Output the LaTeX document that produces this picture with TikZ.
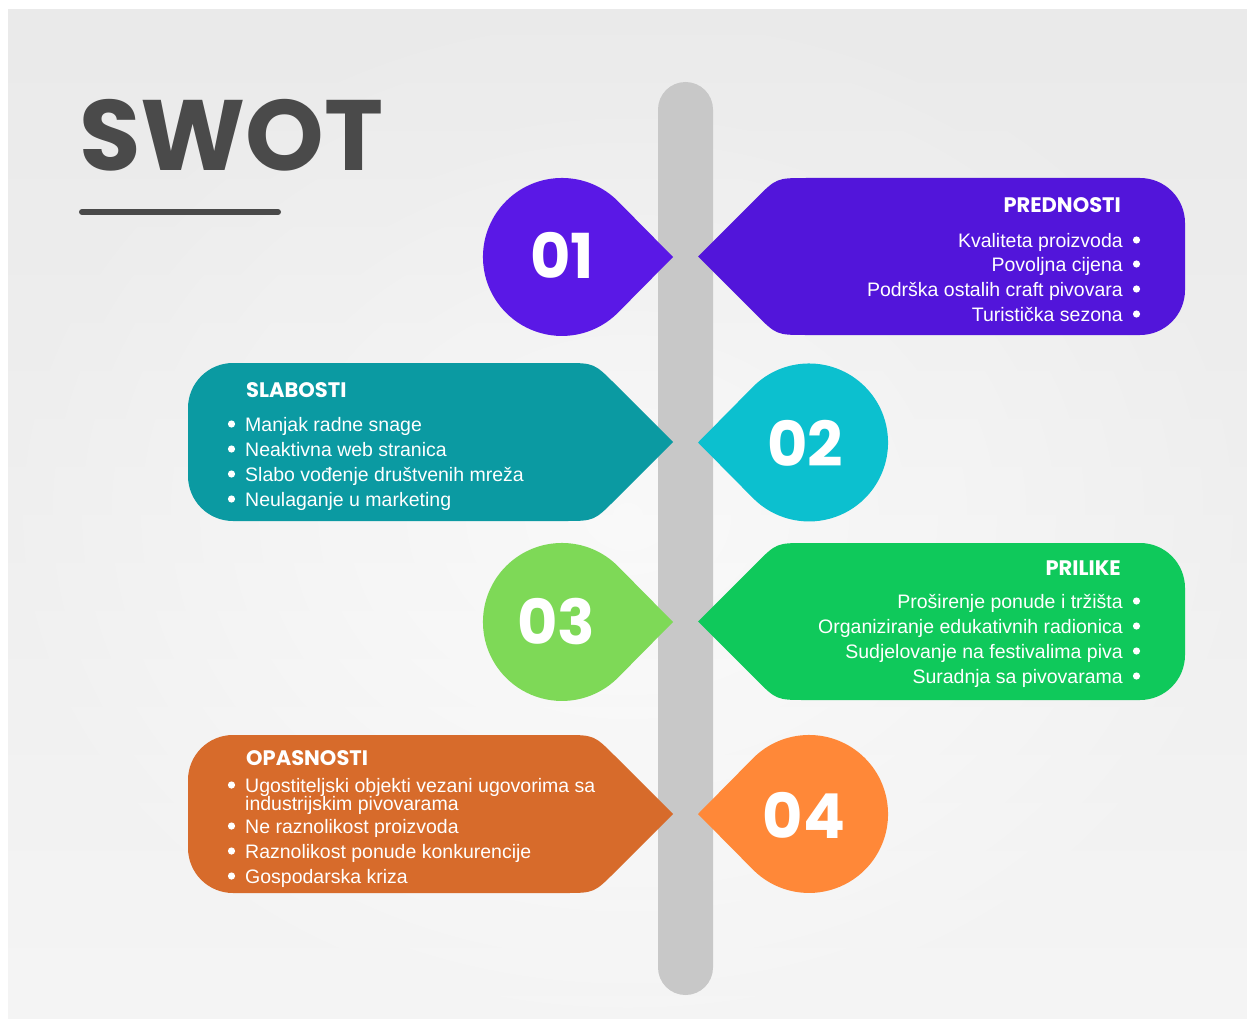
\documentclass[tikz,border=0pt]{standalone}
\usepackage{fontspec}
\setmainfont{Liberation Sans}
\newfontfamily\pop{Poppins}
\definecolor{bgout}{HTML}{EAEAEA}
\definecolor{pole}{HTML}{C8C8C8}
\definecolor{ink}{HTML}{4A4A4A}
\definecolor{purA}{HTML}{5A18E6}
\definecolor{purB}{HTML}{5215DA}
\definecolor{cyanA}{HTML}{0CC0CF}
\definecolor{tealB}{HTML}{0B9AA2}
\definecolor{limeA}{HTML}{7ED957}
\definecolor{grnB}{HTML}{0FC95B}
\definecolor{orA}{HTML}{FF8838}
\definecolor{orB}{HTML}{D76B2B}
\tikzset{
  item/.style={text=white, inner sep=0pt, font=\fontsize{19.5}{23}\selectfont},
  head/.style={text=white, inner sep=0pt, font=\pop\bfseries\fontsize{21}{25}\selectfont},
  num/.style={text=white, inner sep=0pt, font=\pop\bfseries\fontsize{62}{70}\selectfont},
  dotb/.style={fill=white},
}
\begin{document}
\begin{tikzpicture}[x=1pt,y=-1pt]
\useasboundingbox (0,0) rectangle (1247,1019);
\fill[white] (0,0) rectangle (1247,1019);
\shade[inner color=white, outer color=bgout] (8,10) rectangle (1247,1019);
\shade[top color=bgout, bottom color=white, opacity=0.5] (8,10) rectangle (1247,1019);

% title
\node[anchor=base west, inner sep=0pt, text=ink, font=\pop\bfseries\fontsize{100}{110}\selectfont] (title) at (79,171) {SWOT};
\draw[ink, line width=6pt, line cap=round] (82,212) -- (278,212);

% pole
\fill[pole, rounded corners=27.5pt] (658,82) rectangle (713,995);

% ---------- 01 ----------
\fill[purA] (673,257) -- (618.2,201.5) arc[start angle=-44.6, end angle=-315.4, radius=79] -- cycle;
\fill[purB] (698,256.5) -- (755.5,199) .. controls (776.5,178) .. (806.5,178) -- (1140,178)
  arc[start angle=-90, end angle=0, radius=45] -- (1185,290)
  arc[start angle=0, end angle=90, radius=45] -- (806.5,335) .. controls (776.5,335) .. (755.5,314) -- cycle;
\node[num] (n1) at (562,255) {01};
\node[head, anchor=base east] (h1) at (1121,213) {PREDNOSTI};
\node[item, anchor=base east] (a1) at (1123,247) {Kvaliteta proizvoda};
\node[item, anchor=base east] (a2) at (1123,271) {Povoljna cijena};
\node[item, anchor=base east] (a3) at (1123,296) {Podrška ostalih craft pivovara};
\node[item, anchor=base east] (a4) at (1123,321) {Turistička sezona};
\foreach \y in {240,264,289,314} \fill[dotb] (1136.5,\y) circle (3.6);

% ---------- 02 ----------
\fill[cyanA] (698,442.5) -- (752.8,387) arc[start angle=-135.4, end angle=135.4, radius=79] -- cycle;
\fill[tealB] (673,442) -- (615,384) .. controls (594,363) .. (564,363) -- (233,363)
  arc[start angle=-90, end angle=-180, radius=45] -- (188,476)
  arc[start angle=180, end angle=90, radius=45] -- (564,521) .. controls (594,521) .. (615,500) -- cycle;
\node[num] (n2) at (805,443) {02};
\node[head, anchor=base west] (h2) at (246,397) {SLABOSTI};
\node[item, anchor=base west] (b1) at (245,431) {Manjak radne snage};
\node[item, anchor=base west] (b2) at (245,456) {Neaktivna web stranica};
\node[item, anchor=base west] (b3) at (245,481) {Slabo vođenje društvenih mreža};
\node[item, anchor=base west] (b4) at (245,506) {Neulaganje u marketing};
\foreach \y in {424,449,474,499} \fill[dotb] (231.5,\y) circle (3.6);

% ---------- 03 ----------
\fill[limeA] (673,622) -- (618.2,566.5) arc[start angle=-44.6, end angle=-315.4, radius=79] -- cycle;
\fill[grnB] (698,621.5) -- (755.5,564) .. controls (776.5,543) .. (806.5,543) -- (1140,543)
  arc[start angle=-90, end angle=0, radius=45] -- (1185,655)
  arc[start angle=0, end angle=90, radius=45] -- (806.5,700) .. controls (776.5,700) .. (755.5,679) -- cycle;
\node[num] (n3) at (556,622) {03};
\node[head, anchor=base east] (h3) at (1121,575) {PRILIKE};
\node[item, anchor=base east] (c1) at (1123,608) {Proširenje ponude i tržišta};
\node[item, anchor=base east] (c2) at (1123,633) {Organiziranje edukativnih radionica};
\node[item, anchor=base east] (c3) at (1123,658) {Sudjelovanje na festivalima piva};
\node[item, anchor=base east] (c4) at (1123,683) {Suradnja sa pivovarama};
\foreach \y in {601,626,651,676} \fill[dotb] (1136.5,\y) circle (3.6);

% ---------- 04 ----------
\fill[orA] (698,814) -- (752.8,758.5) arc[start angle=-135.4, end angle=135.4, radius=79] -- cycle;
\fill[orB] (673,814) -- (615,756) .. controls (594,735) .. (564,735) -- (233,735)
  arc[start angle=-90, end angle=-180, radius=45] -- (188,848)
  arc[start angle=180, end angle=90, radius=45] -- (564,893) .. controls (594,893) .. (615,872) -- cycle;
\node[num] (n4) at (804,815) {04};
\node[head, anchor=base west] (h4) at (246,765) {OPASNOSTI};
\node[item, anchor=base west] (d1) at (245,792) {Ugostiteljski objekti vezani ugovorima sa};
\node[item, anchor=base west] (d1b) at (245,810) {industrijskim pivovarama};
\node[item, anchor=base west] (d2) at (245,833) {Ne raznolikost proizvoda};
\node[item, anchor=base west] (d3) at (245,858) {Raznolikost ponude konkurencije};
\node[item, anchor=base west] (d4) at (245,883) {Gospodarska kriza};
\foreach \y in {785,826,851,876} \fill[dotb] (231.5,\y) circle (3.6);
\end{tikzpicture}
\end{document}
